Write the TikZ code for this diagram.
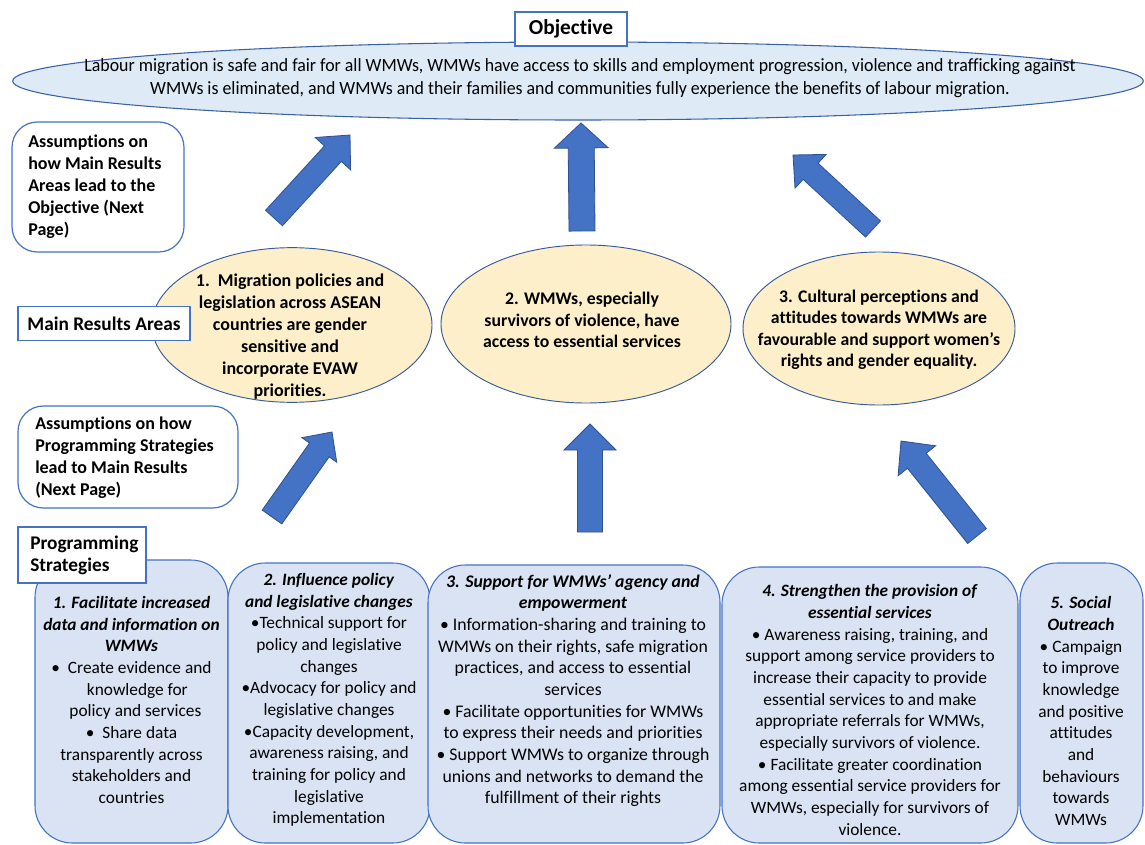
\documentclass[tikz,border=0pt]{standalone}
\usepackage{fontspec}
\setmainfont{Carlito}[Ligatures=NoCommon]
\newfontfamily\condfont[FakeStretch=0.955,Ligatures=NoCommon]{Carlito}
\usetikzlibrary{calc,shapes.geometric}
\definecolor{edgeblue}{HTML}{4472C4}
\definecolor{arrowfill}{HTML}{4472C4}
\definecolor{arrowedge}{HTML}{2F528F}
\definecolor{boxfill}{HTML}{DAE3F3}
\definecolor{resfill}{HTML}{FCEFC9}
\definecolor{objfill}{HTML}{DEEBF7}
\tikzset{
  blockarr/.style={draw=arrowedge, fill=arrowfill, line width=0.6pt},
  labelbox/.style={draw=edgeblue, fill=white, line width=0.9pt, inner sep=0pt},
  assumbox/.style={draw=edgeblue, fill=white, line width=0.9pt, rounded corners=19pt, inner sep=0pt},
  resell/.style={ellipse, draw=edgeblue!80!black, fill=resfill, line width=0.7pt, inner sep=0pt},
  stratbox/.style={draw=edgeblue, fill=boxfill, line width=0.8pt, rounded corners=28pt, inner sep=0pt},
  bodytxt/.style={align=center, font=\fontsize{13}{16.25}\selectfont, inner sep=0pt},
  boldtxt/.style={font=\bfseries\fontsize{13.5}{16.5}\selectfont, inner sep=0pt},
  restxt/.style={align=center, font=\bfseries\fontsize{13.3}{16.1}\selectfont, inner sep=0pt},
}
\newcommand\blockarrow[6]{%
  \coordinate (#1t) at #2; \coordinate (#1p) at #3;
  \coordinate (#1b) at ($(#1p)!#6!(#1t)$);
  \draw[blockarr] ($(#1t)!#4!90:(#1p)$) -- ($(#1b)!#4!-90:(#1t)$) -- ($(#1b)!#5!-90:(#1t)$)
    -- (#1p) -- ($(#1b)!#5!90:(#1t)$) -- ($(#1b)!#4!90:(#1t)$) -- ($(#1t)!#4!-90:(#1p)$) -- cycle;}
\begin{document}
\begin{tikzpicture}[x=0.75pt,y=-0.75pt]
\useasboundingbox (0,0) rectangle (1145,845);
\fill[white] (0,0) rectangle (1145,845);

% objective
\node[ellipse, draw=edgeblue!85!black, fill=objfill, line width=0.8pt, minimum width=848pt, minimum height=58.5pt, inner sep=0pt] (objell) at (578,81) {};
\node[align=center, font=\condfont\fontsize{14}{17.25}\selectfont, inner sep=0pt] (objtxt) at (580,78)
  {Labour migration is safe and fair for all WMWs, WMWs have access to skills and employment progression, violence and trafficking against\\
   WMWs is eliminated, and WMWs and their families and communities fully experience the benefits of labour migration.};
\node[labelbox, minimum width=84pt, minimum height=25.5pt, font=\bfseries\fontsize{16}{19}\selectfont] (objlbl) at (571,29) {Objective};

% assumptions 1
\node[assumbox, minimum width=129pt, minimum height=97.5pt] (as1) at (98,187) {};
\node[boldtxt, anchor=west, align=left] (as1txt) at (28,187)
  {Assumptions on\\how Main Results\\Areas lead to the\\Objective (Next\\Page)};

% main results
\node[resell, minimum width=210pt, minimum height=116pt] (r1) at (292,325) {};
\node[resell, minimum width=217.5pt, minimum height=118.5pt] (r2) at (586,324) {};
\node[resell, minimum width=204pt, minimum height=114.75pt] (r3) at (879,328.5) {};
\node[boldtxt, align=center] (r1txt) at (290,337)
  {1.\ \ Migration policies and\\legislation across ASEAN\\countries are gender\\sensitive and\\incorporate EVAW\\priorities.};
\node[restxt] (r2txt) at (582,320)
  {2. WMWs, especially\\survivors of violence, have\\access to essential services};
\node[restxt] (r3txt) at (879,330)
  {3. Cultural perceptions and\\attitudes towards WMWs are\\favourable and support women’s\\rights and gender equality.};
\node[labelbox, minimum width=129pt, minimum height=26pt, font=\bfseries\fontsize{14.5}{17}\selectfont] (mra) at (104,323.5) {Main Results Areas};

% assumptions 2
\node[assumbox, minimum width=165pt, minimum height=76.5pt] (as2) at (128,457) {};
\node[boldtxt, anchor=west, align=left] (as2txt) at (35,458)
  {Assumptions on how\\Programming Strategies\\lead to Main Results\\(Next Page)};

% arrows upper
\blockarrow{a1}{(274,218)}{(350,135)}{8.6pt}{18pt}{19pt}
\blockarrow{a2}{(582,231)}{(581,123)}{9.75pt}{20.25pt}{18.75pt}
\blockarrow{a3}{(873,229)}{(793,155)}{8.25pt}{17.25pt}{18pt}
% arrows lower
\blockarrow{a4}{(272,517)}{(332,432)}{9pt}{16pt}{16.5pt}
\blockarrow{a5}{(590,532)}{(590,424)}{9.4pt}{19.5pt}{19.5pt}
\blockarrow{a6}{(977,536)}{(901,441)}{9pt}{18pt}{19pt}

% strategies
\node[stratbox, minimum width=144.75pt, minimum height=212.25pt] (s1) at (131.5,701.5) {};
\node[stratbox, minimum width=151.5pt, minimum height=210pt] (s2) at (329,703) {};
\node[stratbox, minimum width=219pt, minimum height=208.5pt] (s3) at (574,704) {};
\node[stratbox, minimum width=222pt, minimum height=207pt] (s4) at (870,705) {};
\node[stratbox, minimum width=92.25pt, minimum height=210pt] (s5) at (1081.5,703) {};

\node[bodytxt] (s1txt) at (131.5,700)
  {\textbf{\textit{1. Facilitate increased}}\\\textbf{\textit{data and information on}}\\\textbf{\textit{WMWs}}\\
   •\ \ Create evidence and\\\ \ \ knowledge for\\\ \ policy and services\\•\ \ Share data\\transparently across\\stakeholders and\\countries};
\node[bodytxt] (s2txt) at (329,700)
  {\textbf{\textit{2. Influence policy}}\\\textbf{\textit{and legislative changes}}\\•Technical support for\\policy and legislative\\changes\\•Advocacy for policy and\\legislative changes\\•Capacity development,\\awareness raising, and\\training for policy and\\legislative\\implementation};
\node[bodytxt, font=\fontsize{13.3}{16.25}\selectfont] (s3txt) at (573,690.5)
  {\textbf{\textit{3. Support for WMWs’ agency and}}\\\textbf{\textit{empowerment}}\\• Information-sharing and training to\\WMWs on their rights, safe migration\\practices, and access to essential\\services\\• Facilitate opportunities for WMWs\\to express their needs and priorities\\• Support WMWs to organize through\\unions and networks to demand the\\fulfillment of their rights};
\node[bodytxt] (s4txt) at (870,710)
  {\textbf{\textit{4. Strengthen the provision of}}\\\textbf{\textit{essential services}}\\• Awareness raising, training, and\\support among service providers to\\increase their capacity to provide\\essential services to and make\\appropriate referrals for WMWs,\\especially survivors of violence.\\• Facilitate greater coordination\\among essential service providers for\\WMWs, especially for survivors of\\violence.};
\node[bodytxt] (s5txt) at (1081,711)
  {\textbf{\textit{5. Social}}\\\textbf{\textit{Outreach}}\\• Campaign\\to improve\\knowledge\\and positive\\attitudes\\and\\behaviours\\towards\\WMWs};

\node[labelbox, minimum width=96pt, minimum height=42pt] (ps) at (82,555) {};
\node[anchor=west, align=left, font=\bfseries\fontsize{14.5}{16.5}\selectfont, inner sep=0pt] (pstxt) at (30,555) {Programming\\Strategies};
\end{tikzpicture}
\end{document}
